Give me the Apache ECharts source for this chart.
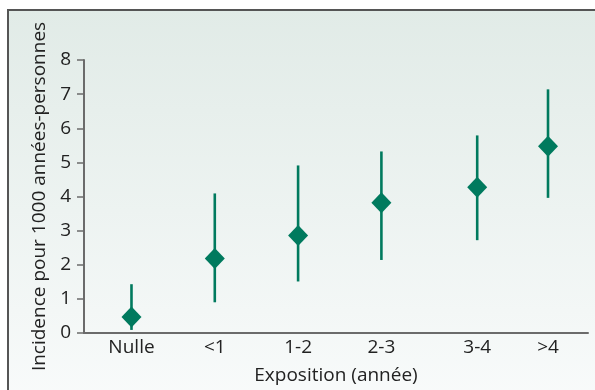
<!DOCTYPE html>
<html>
<head>
<meta charset="utf-8">
<script src="https://cdn.jsdelivr.net/npm/echarts@6/dist/echarts.min.js"></script>
<style>
html,body{margin:0;padding:0;background:#fff;}
#c{width:595px;height:390px;}
</style>
</head>
<body>
<div id="c"></div>
<script>
var categories = ['Nulle', '<1', '1-2', '2-3', '3-4', '>4'];
var xPositions = [1, 2, 3, 4, 5.15, 6];
var means = [0.47, 2.18, 2.86, 3.82, 4.27, 5.47];
var lows  = [0.09, 0.90, 1.51, 2.14, 2.72, 3.96];
var highs = [1.43, 4.09, 4.91, 5.32, 5.79, 7.14];
var yTicks = [0, 1, 2, 3, 4, 5, 6, 7, 8];

var teal = '#007a5e';
var font = '"Open Sans", "Noto Sans", sans-serif';
var textColor = '#222';

var chart = echarts.init(document.getElementById('c'), null, {renderer: 'canvas'});

var barData = xPositions.map(function (x, i) { return [x, lows[i], highs[i]]; });
var pointData = xPositions.map(function (x, i) { return [x, means[i]]; });

chart.setOption({
  animation: false,
  backgroundColor: '#fff',
  graphic: [{
    type: 'rect',
    z: -10,
    shape: {x: 8, y: 10, width: 600, height: 400},
    style: {
      fill: new echarts.graphic.LinearGradient(0, 0, 0, 1, [
        {offset: 0, color: 'rgb(225,235,231)'},
        {offset: 1, color: 'rgb(249,251,251)'}
      ]),
      stroke: '#555',
      lineWidth: 2
    }
  }],
  grid: {left: 84, right: 7, top: 60, bottom: 56, containLabel: false},
  xAxis: {
    type: 'value',
    min: 0.43,
    max: 6.48,
    name: 'Exposition (année)',
    nameLocation: 'middle',
    nameGap: 33,
    nameTextStyle: {fontFamily: font, fontSize: 19, color: textColor},
    axisLine: {show: true, lineStyle: {color: '#6b6b6b', width: 2}},
    axisTick: {show: false},
    splitLine: {show: false},
    axisLabel: {
      customValues: xPositions,
      margin: 5,
      fontFamily: font, fontSize: 19, color: textColor,
      formatter: function (v) {
        var idx = xPositions.indexOf(v);
        return idx >= 0 ? categories[idx] : '';
      }
    }
  },
  yAxis: {
    type: 'value',
    min: 0,
    max: 8,
    interval: 1,
    name: 'Incidence pour 1000 années-personnes',
    nameLocation: 'middle',
    nameGap: 35,
    nameTextStyle: {fontFamily: font, fontSize: 19, color: textColor},
    axisLine: {show: true, lineStyle: {color: '#6b6b6b', width: 2}},
    axisTick: {show: true, length: 7, lineStyle: {color: '#6b6b6b', width: 1.5}},
    splitLine: {show: false},
    axisLabel: {
      margin: 13,
      fontFamily: font, fontSize: 19, color: textColor,
      formatter: function (v) { return yTicks.indexOf(v) >= 0 ? String(v) : ''; }
    }
  },
  series: [{
    type: 'custom',
    data: barData,
    z: 2,
    renderItem: function (params, api) {
      var p1 = api.coord([api.value(0), api.value(1)]);
      var p2 = api.coord([api.value(0), api.value(2)]);
      return {
        type: 'line',
        shape: {x1: p1[0], y1: p1[1], x2: p2[0], y2: p2[1]},
        style: {stroke: teal, lineWidth: 2.6}
      };
    }
  }, {
    type: 'scatter',
    data: pointData,
    z: 3,
    symbol: 'diamond',
    symbolSize: [20, 21],
    itemStyle: {color: teal, opacity: 1}
  }]
});
</script>
</body>
</html>
